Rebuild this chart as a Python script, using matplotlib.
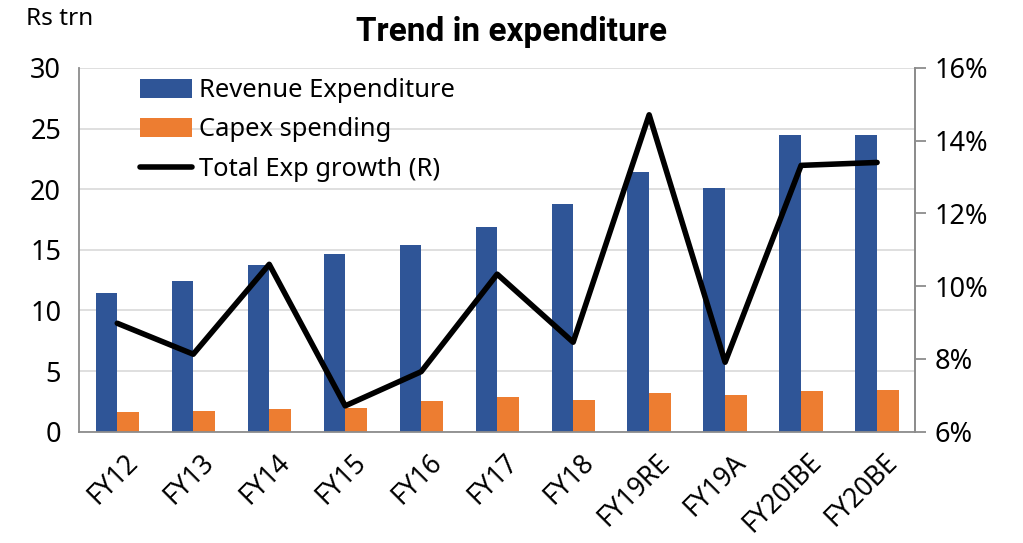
import matplotlib

matplotlib.use("Agg")
import matplotlib.pyplot as plt
import matplotlib.transforms as mtransforms
import numpy as np
from matplotlib.ticker import FuncFormatter

# Values
years = ["FY12", "FY13", "FY14", "FY15", "FY16", "FY17", "FY18", "FY19RE", "FY19A", "FY20IBE", "FY20BE"]
revenue_exp = [11.47, 12.43, 13.73, 14.66, 15.38, 16.89, 18.79, 21.4, 20.08, 24.48, 24.48]
capex = [1.6, 1.68, 1.87, 1.98, 2.53, 2.84, 2.64, 3.17, 3.03, 3.36, 3.42]
exp_growth = [8.98, 8.13, 10.6, 6.71, 7.65, 10.33, 8.46, 14.71, 7.91, 13.32, 13.40]

BLUE = "#2F5597"
ORANGE = "#ED7D31"
GREY = "#8C8C8C"
FS = 18.4

plt.rcParams["font.family"] = ["Noto Sans", "DejaVu Sans"]

fig = plt.figure(figsize=(10.23, 5.43), dpi=100)
ax = fig.add_axes([0.0775, 0.205, 0.817, 0.670])
ax2 = ax.twinx()

x = np.arange(len(years))
width = 0.285
ax.bar(x - width / 2, revenue_exp, width, color=BLUE, label="Revenue Expenditure", zorder=2)
ax.bar(x + width / 2, capex, width, color=ORANGE, label="Capex spending", zorder=2)
ax2.plot(x, exp_growth, color="black", lw=4, label="Total Exp growth (R)", solid_capstyle="round")

ax.set_xlim(-0.5, len(years) - 0.5)
ax.set_ylim(0, 30)
ax.set_yticks(range(0, 31, 5))
ax.grid(axis="y", color="#D9D9D9", lw=1.2, zorder=0)
ax.set_axisbelow(True)

ax2.set_ylim(6, 16)
ax2.set_yticks(range(6, 17, 2))
ax2.yaxis.set_major_formatter(FuncFormatter(lambda v, _: f"{v:.0f}%"))

for a in (ax, ax2):
    a.spines["top"].set_visible(False)
    for s in ("left", "right", "bottom"):
        a.spines[s].set_color(GREY)
        a.spines[s].set_linewidth(1.3)
ax2.spines["left"].set_visible(False)
ax2.spines["bottom"].set_visible(False)

ax.tick_params(axis="y", length=0, labelsize=19.5, pad=13)
ax.tick_params(axis="x", length=0, labelsize=19, pad=12)
ax2.tick_params(axis="y", length=8, color=GREY, width=1.3, labelsize=19.5, pad=6)

ax.set_xticks(x)
ax.set_xticklabels(years, rotation=45, ha="right", va="top", rotation_mode="anchor")
shift = mtransforms.ScaledTranslation(5 / 72, 0, fig.dpi_scale_trans)
for lbl in ax.get_xticklabels():
    lbl.set_transform(lbl.get_transform() + shift)

fig.text(0.5, 0.941, "Trend in expenditure", ha="center", va="center", fontsize=24,
         fontweight="bold", family=["Roboto", "DejaVu Sans"])
fig.text(0.025, 0.965, "Rs trn", ha="left", va="center", fontsize=17.5)

h1, l1 = ax.get_legend_handles_labels()
h2, l2 = ax2.get_legend_handles_labels()
ax2.legend(h1 + h2, l1 + l2, loc="upper left", bbox_to_anchor=(0.045, 1.035), frameon=False,
           fontsize=FS, handlelength=2.05, handleheight=0.75, handletextpad=0.25, labelspacing=0.56)

fig.savefig("out.png", dpi=100)
